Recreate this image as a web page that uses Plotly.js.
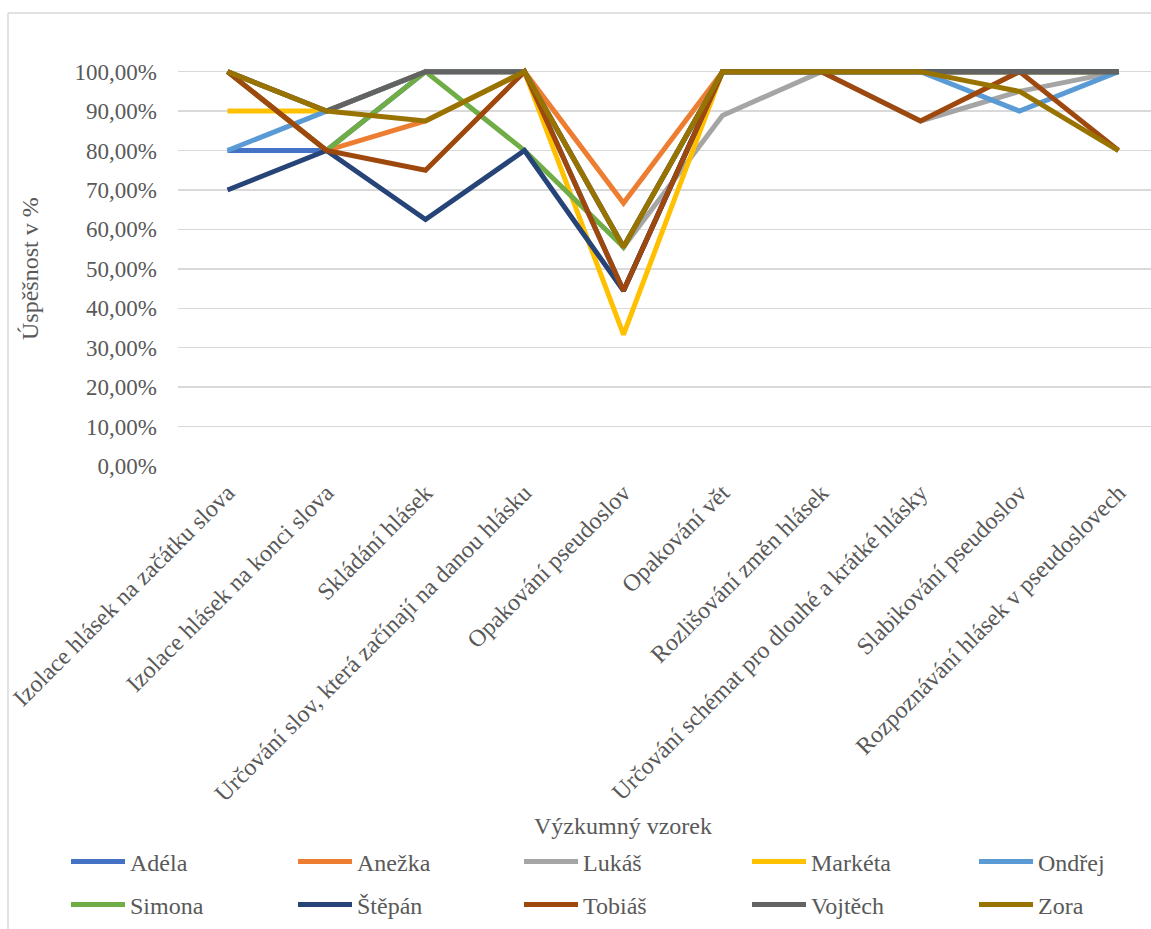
<!DOCTYPE html>
<html>
<head>
<meta charset="utf-8">
<script src="https://cdn.plot.ly/plotly-3.0.1.min.js"></script>
<style>
html,body{margin:0;padding:0;background:#fff;overflow:hidden;}
#chart{width:1240px;height:929px;}
</style>
</head>
<body>
<div id="chart"></div>
<script>
const categories = [
  "Izolace hlásek na začátku slova",
  "Izolace hlásek na konci slova",
  "Skládání hlásek",
  "Určování slov, která začínají na danou hlásku",
  "Opakování pseudoslov",
  "Opakování vět",
  "Rozlišování změn hlásek",
  "Určování schémat pro dlouhé a krátké hlásky",
  "Slabikování pseudoslov",
  "Rozpoznávání hlásek v pseudoslovech"
];

const names = ["Adéla","Anežka","Lukáš","Markéta","Ondřej","Simona","Štěpán","Tobiáš","Vojtěch","Zora"];

const adela   = [0.80, 0.80, 1.00, 1.00, 0.4444, 1.00, 1.00, 1.00, 1.00, 1.00];
const anezka  = [1.00, 0.80, 0.875, 1.00, 0.6667, 1.00, 1.00, 1.00, 1.00, 1.00];
const lukas   = [1.00, 0.90, 1.00, 1.00, 0.5556, 0.8889, 1.00, 0.875, 0.95, 1.00];
const marketa = [0.90, 0.90, 1.00, 1.00, 0.3333, 1.00, 1.00, 1.00, 1.00, 1.00];
const ondrej  = [0.80, 0.90, 1.00, 1.00, 0.5556, 1.00, 1.00, 1.00, 0.90, 1.00];
const simona  = [1.00, 0.80, 1.00, 0.80, 0.5556, 1.00, 1.00, 1.00, 1.00, 1.00];
const stepan  = [0.70, 0.80, 0.625, 0.80, 0.4444, 1.00, 1.00, 1.00, 1.00, 1.00];
const tobias  = [1.00, 0.80, 0.75, 1.00, 0.4444, 1.00, 1.00, 0.875, 1.00, 0.80];
const vojtech = [1.00, 0.90, 1.00, 1.00, 0.5556, 1.00, 1.00, 1.00, 1.00, 1.00];
const zora    = [1.00, 0.90, 0.875, 1.00, 0.5556, 1.00, 1.00, 1.00, 0.95, 0.80];

const seriesValues = [adela, anezka, lukas, marketa, ondrej, simona, stepan, tobias, vojtech, zora];
const colors = ["#4472C4","#ED7D31","#A5A5A5","#FFC000","#5B9BD5","#70AD47","#264478","#9E480E","#636363","#997300"];

const FONT = "Liberation Serif";
const TXT = "#595959";

const W = 1240, H = 929, L = 178, R = 72, T = 48, B = 463;
const plotW = W - L - R, plotH = H - T - B;
const px2x = px => (px - L) / plotW;
const py2y = py => (H - B - py) / plotH;

// one legend per entry so that every entry sits on the reference grid (5 columns x 2 rows)
const legendCols = [66, 293, 519, 747, 974];
const legendRows = [862, 905];
const legendKey = i => (i === 0 ? "legend" : "legend" + (i + 1));

const traces = names.map((n, i) => ({
  type: "scatter",
  mode: "lines",
  name: n,
  x: categories,
  y: seriesValues[i],
  line: {color: colors[i], width: 5},
  legend: legendKey(i),
  hoverinfo: "skip"
}));

const layout = {
  width: W, height: H,
  margin: {l: L, r: R, t: T, b: B, pad: 0},
  paper_bgcolor: "#fff",
  plot_bgcolor: "#fff",
  separators: ", ",
  font: {family: FONT, size: 23, color: TXT},
  showlegend: true,
  xaxis: {
    type: "category",
    range: [-0.5, 9.5],
    tickangle: -45,
    showgrid: false,
    zeroline: false,
    showline: false,
    ticks: "",
    ticklabelstandoff: 7,
    tickfont: {family: FONT, size: 24, color: TXT},
    fixedrange: true
  },
  yaxis: {
    range: [0, 1.06],
    tickvals: [0,0.1,0.2,0.3,0.4,0.5,0.6,0.7,0.8,0.9,1.0],
    tickformat: ".2%",
    showgrid: true,
    gridcolor: "#D9D9D9",
    gridwidth: 1.4,
    zeroline: false,
    showline: false,
    ticks: "",
    ticklabelstandoff: 20,
    tickfont: {family: FONT, size: 23, color: TXT},
    fixedrange: true
  },
  annotations: [
    {text: "Úspěšnost v %", xref: "paper", yref: "paper",
     x: px2x(30), y: py2y(269), textangle: -90, showarrow: false,
     xanchor: "center", yanchor: "middle",
     font: {family: FONT, size: 24, color: TXT}},
    {text: "Výzkumný vzorek", xref: "paper", yref: "paper",
     x: px2x(623), y: py2y(826), showarrow: false,
     xanchor: "center", yanchor: "middle",
     font: {family: FONT, size: 24, color: TXT}}
  ],
  shapes: [
    {type: "line", xref: "paper", yref: "paper",
     x0: px2x(8), x1: px2x(1240), y0: py2y(13), y1: py2y(13),
     line: {color: "#D9D9D9", width: 1.5}},
    {type: "line", xref: "paper", yref: "paper",
     x0: px2x(8), x1: px2x(8), y0: py2y(13), y1: py2y(940),
     line: {color: "#D9D9D9", width: 1.5}}
  ]
};

names.forEach((n, i) => {
  layout[legendKey(i)] = {
    orientation: "h",
    xref: "container", yref: "container",
    xanchor: "left", yanchor: "middle",
    x: legendCols[i % 5] / W,
    y: (H - legendRows[Math.floor(i / 5)]) / H,
    font: {family: FONT, size: 24, color: TXT},
    itemwidth: 54,
    bgcolor: "rgba(0,0,0,0)"
  };
});

Plotly.newPlot("chart", traces, layout, {displayModeBar: false, staticPlot: true});
</script>
</body>
</html>
